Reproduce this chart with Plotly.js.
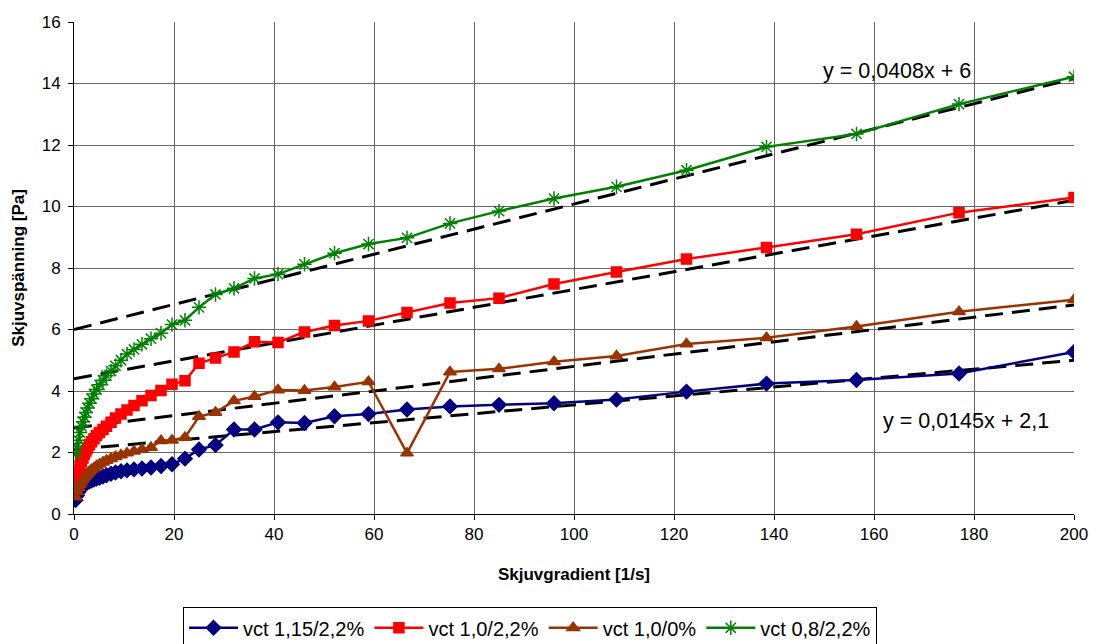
<!DOCTYPE html>
<html>
<head>
<meta charset="utf-8">
<script src="https://cdn.plot.ly/plotly-3.0.1.min.js"></script>
<style>
html,body{margin:0;padding:0;background:#fff;}
#chart{width:1098px;height:644px;}
</style>
</head>
<body>
<div id="chart"></div>
<script>
// Shear rate [1/s]
const shearRate = [0.3, 0.6, 0.9, 1.2, 1.5, 1.8, 2.1, 2.4, 2.7, 3.1, 3.5, 4.0, 4.5, 5.1, 5.8, 6.5, 7.4, 8.3, 9.4, 10.6, 12, 13.6, 15.4, 17.4, 19.6, 22.2, 25, 28.3, 32, 36.1, 40.8, 46.1, 52.1, 58.9, 66.6, 75.2, 85, 96, 108.5, 122.5, 138.5, 156.5, 177, 200];

const vct115 = [0.45, 0.6, 0.72, 0.8, 0.88, 0.93, 0.97, 1.0, 1.03, 1.06, 1.09, 1.12, 1.15, 1.18, 1.22, 1.26, 1.31, 1.35, 1.39, 1.42, 1.45, 1.48, 1.51, 1.56, 1.62, 1.80, 2.1, 2.24, 2.75, 2.75, 2.98, 2.96, 3.18, 3.25, 3.40, 3.50, 3.55, 3.60, 3.72, 3.98, 4.24, 4.36, 4.57, 5.27];

const vct10 = [1.1, 1.25, 1.4, 1.55, 1.7, 1.82, 1.95, 2.05, 2.15, 2.25, 2.35, 2.45, 2.55, 2.65, 2.75, 2.85, 2.98, 3.12, 3.25, 3.38, 3.53, 3.68, 3.85, 4.02, 4.22, 4.33, 4.9, 5.07, 5.27, 5.6, 5.58, 5.92, 6.13, 6.28, 6.55, 6.86, 7.02, 7.48, 7.87, 8.29, 8.67, 9.1, 9.8, 10.29];

const vct10_0 = [0.55, 0.72, 0.85, 0.95, 1.05, 1.12, 1.2, 1.26, 1.32, 1.38, 1.44, 1.5, 1.56, 1.62, 1.68, 1.74, 1.8, 1.86, 1.92, 1.98, 2.04, 2.1, 2.16, 2.38, 2.4, 2.49, 3.17, 3.3, 3.68, 3.82, 4.03, 4.02, 4.13, 4.3, 1.98, 4.62, 4.72, 4.95, 5.14, 5.53, 5.73, 6.1, 6.58, 6.97];

const vct08 = [1.95, 2.2, 2.4, 2.65, 2.85, 3.0, 3.15, 3.3, 3.45, 3.6, 3.75, 3.9, 4.05, 4.2, 4.35, 4.5, 4.65, 4.82, 5.0, 5.2, 5.35, 5.52, 5.7, 5.88, 6.16, 6.3, 6.72, 7.14, 7.34, 7.66, 7.8, 8.12, 8.48, 8.78, 8.98, 9.45, 9.85, 10.26, 10.64, 11.18, 11.94, 12.36, 13.33, 14.22];

const seriesNames = ["vct 1,15/2,2%", "vct 1,0/2,2%", "vct 1,0/0%", "vct 0,8/2,2%"];

// Linear trend lines (slope, intercept)
const trendSlopes = [0.0145, 0.029, 0.02, 0.0408];
const trendIntercepts = [2.1, 4.4, 2.8, 6];
const trendX = [0, 200];

const xTicks = [0, 20, 40, 60, 80, 100, 120, 140, 160, 180, 200];
const yTicks = [0, 2, 4, 6, 8, 10, 12, 14, 16];

const seriesData = [vct115, vct10, vct10_0, vct08];
const colors = ["#000080", "#FF0000", "#993300", "#008000"];
const symbols = ["diamond", "square", "triangle-up", "asterisk-open"];
const msizes = [11, 10, 11, 12];

const traces = [];
for (let i = 0; i < 4; i++) {
  traces.push({
    x: trendX,
    y: trendX.map(v => trendSlopes[i] * v + trendIntercepts[i]),
    mode: "lines",
    line: {color: "#000000", width: 3, dash: "18px,9px"},
    showlegend: false,
    hoverinfo: "skip"
  });
}
for (let i = 0; i < 4; i++) {
  traces.push({
    x: shearRate,
    y: seriesData[i],
    name: seriesNames[i],
    mode: "lines+markers",
    line: {color: colors[i], width: 2.5},
    marker: {symbol: symbols[i], size: msizes[i], color: colors[i], line: {color: colors[i], width: 1.5}}
  });
}

const font = {family: "Liberation Sans, Arial, sans-serif", color: "#000", size: 17};

const layout = {
  width: 1098, height: 644,
  margin: {l: 74, r: 24, t: 22, b: 130},
  paper_bgcolor: "#fff", plot_bgcolor: "#fff",
  font: font,
  showlegend: true,
  xaxis: {
    range: [0, 200], tickvals: xTicks, ticktext: xTicks.map(String),
    showgrid: true, gridcolor: "#666", gridwidth: 1,
    showline: true, linecolor: "#000", linewidth: 1, mirror: false,
    ticks: "outside", ticklen: 5, tickcolor: "#000",
    zeroline: false, automargin: false,
    tickfont: {size: 17},
    title: {text: "<b>Skjuvgradient [1/s]</b>", font: {size: 17}, standoff: 24}
  },
  yaxis: {
    range: [0, 16], tickvals: yTicks, ticktext: yTicks.map(String),
    showgrid: true, gridcolor: "#666", gridwidth: 1,
    showline: true, linecolor: "#000", linewidth: 1,
    ticks: "outside", ticklen: 5, tickcolor: "#000",
    zeroline: false, automargin: false,
    ticklabelstandoff: 4,
    tickfont: {size: 17},
    title: {text: "<b>Skjuvspänning [Pa]</b>", font: {size: 17}, standoff: 12}
  },
  legend: {
    orientation: "h", xref: "container", yref: "container",
    x: 0.4827, xanchor: "center", y: 0.057, yanchor: "top",
    bordercolor: "#000", borderwidth: 1, bgcolor: "#fff",
    font: {size: 20}, itemwidth: 49
  },
  annotations: [
    {x: 164.6, y: 14.41, xref: "x", yref: "y", text: "y = 0,0408x + 6", showarrow: false, font: {size: 21.5}},
    {x: 178.4, y: 3.02, xref: "x", yref: "y", text: "y = 0,0145x + 2,1", showarrow: false, font: {size: 21.5}}
  ]
};

Plotly.newPlot("chart", traces, layout, {displayModeBar: false, staticPlot: true});
</script>
</body>
</html>
